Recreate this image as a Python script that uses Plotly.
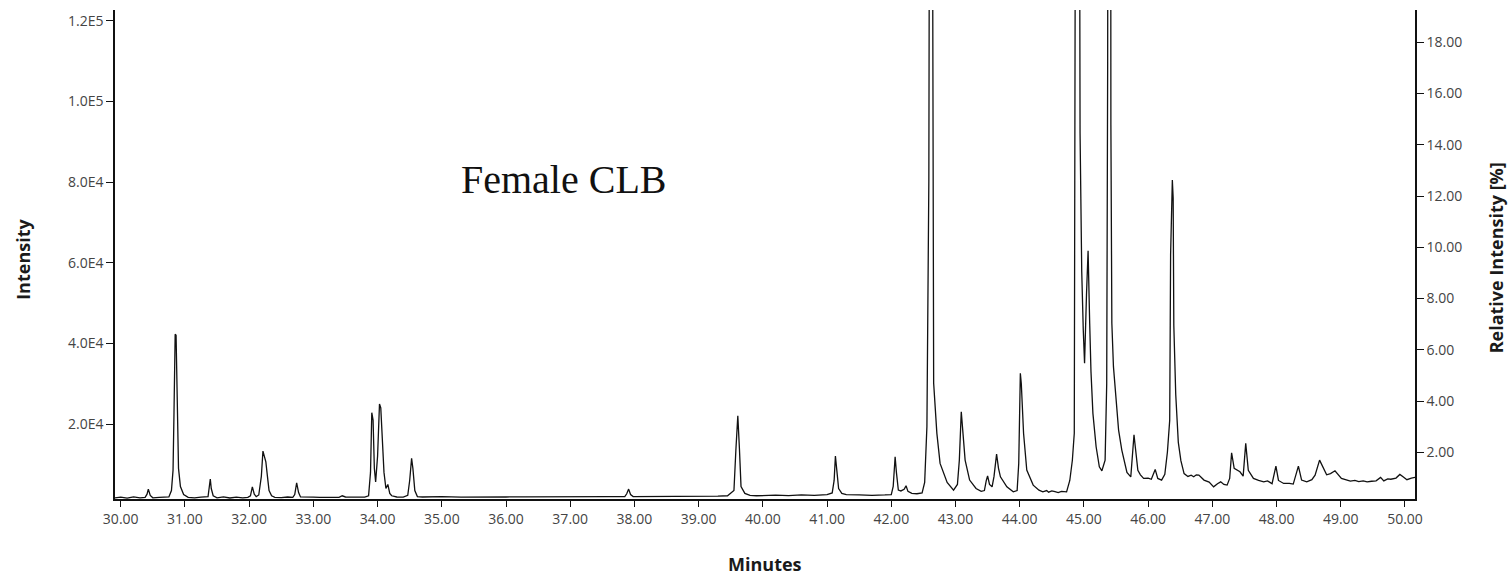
import plotly.graph_objects as go

# Retention time (minutes) and intensity
minutes = [
    29.91, 30.00, 30.10, 30.20, 30.30, 30.38, 30.41, 30.43, 30.46, 30.50,
    30.60, 30.70, 30.75, 30.79, 30.815, 30.83, 30.848, 30.862, 30.885, 30.90,
    30.93, 30.98, 31.05, 31.15, 31.25, 31.36, 31.38, 31.395, 31.41, 31.44,
    31.50, 31.60, 31.70, 31.80, 31.90, 31.98, 32.02, 32.05, 32.08, 32.11,
    32.15, 32.19, 32.215, 32.235, 32.26, 32.285, 32.31, 32.35, 32.40, 32.50,
    32.60, 32.68, 32.71, 32.74, 32.77, 32.80, 32.90, 33.00, 33.10, 33.20,
    33.30, 33.40, 33.45, 33.50, 33.60, 33.70, 33.80, 33.86, 33.89, 33.91,
    33.93, 33.95, 33.97, 34.00, 34.03, 34.05, 34.07, 34.10, 34.13, 34.16,
    34.19, 34.22, 34.30, 34.40, 34.47, 34.50, 34.53, 34.55, 34.58, 34.62,
    34.70, 35.00, 35.30, 35.60, 36.00, 36.30, 36.60, 37.00, 37.30, 37.60,
    37.85, 37.88, 37.91, 37.94, 37.98, 38.30, 38.60, 39.00, 39.30, 39.45,
    39.55, 39.58, 39.61, 39.635, 39.66, 39.72, 39.80, 39.90, 40.00, 40.20,
    40.40, 40.60, 40.80, 41.00, 41.08, 41.11, 41.13, 41.15, 41.18, 41.23,
    41.30, 41.50, 41.70, 41.90, 42.00, 42.03, 42.06, 42.08, 42.11, 42.15,
    42.20, 42.23, 42.26, 42.32, 42.40, 42.48, 42.52, 42.555, 42.575, 42.585,
    42.615, 42.645, 42.66, 42.71, 42.76, 42.87, 42.97, 43.03, 43.06, 43.09,
    43.12, 43.15, 43.22, 43.32, 43.40, 43.45, 43.48, 43.50, 43.53, 43.57,
    43.60, 43.64, 43.67, 43.70, 43.80, 43.90, 43.96, 43.985, 44.01, 44.025,
    44.06, 44.11, 44.21, 44.30, 44.36, 44.42, 44.45, 44.50, 44.55, 44.60,
    44.65, 44.73, 44.78, 44.82,
    44.85, 44.90, 44.94, 44.966, 44.99, 45.01, 45.04, 45.065, 45.09, 45.11,
    45.14, 45.19, 45.24, 45.28, 45.33, 45.355, 45.37, 45.40, 45.42, 45.435,
    45.46, 45.54, 45.59, 45.67, 45.73, 45.78, 45.80, 45.84, 45.88, 45.93,
    46.00, 46.05, 46.11, 46.15, 46.21, 46.26, 46.30, 46.336, 46.35, 46.377,
    46.39, 46.40, 46.43, 46.47, 46.51, 46.56, 46.62, 46.67, 46.71, 46.75,
    46.79, 46.83, 46.87, 46.95, 47.02, 47.08, 47.13, 47.18, 47.23, 47.27,
    47.30, 47.34, 47.43,
    47.48, 47.52, 47.56, 47.64, 47.72, 47.80, 47.86, 47.93, 47.99, 48.03,
    48.11, 48.20, 48.26, 48.34, 48.39, 48.47, 48.55, 48.60, 48.67, 48.73,
    48.78, 48.84, 48.91, 49.01, 49.08, 49.15, 49.22, 49.28, 49.35, 49.41,
    49.48, 49.55, 49.62, 49.67, 49.73, 49.78, 49.86, 49.92, 49.97, 50.03,
    50.10, 50.156,
]
intensity = [
    1700, 1850, 1600, 1900, 1700, 1800, 2600, 3850, 2300, 1700,
    1800, 1750, 1900, 3500, 8570, 23000, 42270, 42000, 23650, 9000,
    4500, 2500, 1800, 1700, 1850, 2000, 4500, 6330, 4000, 2200,
    1700, 1900, 1650, 1850, 1700, 1800, 2200, 4420, 2600, 2000,
    2400, 7000, 13290, 12000, 10630, 7000, 3500, 2200, 1800, 1750,
    1900, 1800, 2500, 5420, 3000, 1900, 1800, 1850, 1800, 1800,
    1850, 1800, 2200, 1900, 1850, 1850, 1850, 2200, 8000, 22800,
    21000, 9000, 5660, 12000, 24960, 24000, 16850, 8000, 4000, 5010,
    2800, 2200, 1900, 1850, 2300, 6000, 11480, 9000, 3500, 2000,
    1900, 2000, 1850, 1950, 1900, 1950, 2000, 2000, 1950, 2000,
    2000, 2700, 3850, 2500, 2000, 2000, 2000, 2050, 2100, 2200,
    3500, 13540, 22060, 14000, 4500, 2800, 2300, 2200, 2300, 2350,
    2250, 2400, 2300, 2500, 2900, 6000, 12050, 9000, 4000, 2800,
    2500, 2400, 2300, 2400, 2500, 4500, 11880, 8000, 3600, 3400,
    3800, 4670, 3300, 2800, 2700, 2900, 5500, 19330, 50800, 80180,
    330000, 105000, 30100, 17690, 10230, 5500, 3600, 5000, 11050, 23050,
    17690, 11050, 6090, 4010, 3300, 3500, 6000, 7150, 5000, 4420,
    7000, 12540, 9000, 6900, 4420, 3180, 3500, 10230, 32590, 30000,
    17690, 8570, 4840, 3600, 3180, 3500, 3100, 3400, 3200, 3000,
    3300, 3180, 6000, 11000,
    17690, 420000, 92200, 57830, 43350, 35070, 52000, 63000, 45000, 33000,
    22650, 14360, 9400, 8400, 11050, 30000, 109600, 636000, 94260, 45000,
    34230, 18500, 13540, 8000, 6900, 17350, 14360, 8500, 7400, 6500,
    6600, 6300, 8740, 6500, 6090, 7500, 13000, 20900, 61900, 80500,
    76000, 44500, 27300, 15450, 10900, 7700, 7000, 7300, 6910, 7400,
    7330, 6700, 6090, 5600, 4420, 5200, 5660, 5000, 4840, 6500,
    12870, 8990, 8150,
    7080, 15200, 8500, 6500, 6000, 5660, 5900, 5200, 9560, 6000,
    5260, 5300, 5100, 9560, 6100, 5660, 6200, 7330, 11050, 8990,
    7400, 7700, 8400, 6500, 6100, 5840, 6000, 5700, 5900, 5660,
    5800, 5900, 6750, 5900, 6400, 6300, 6600, 7500, 6900, 6200,
    6600, 6750,
]

left_tickvals = [20000, 40000, 60000, 80000, 100000, 120000]
left_ticktext = ["2.0E4", "4.0E4", "6.0E4", "8.0E4", "1.0E5", "1.2E5"]
right_tickvals = [2, 4, 6, 8, 10, 12, 14, 16, 18]
x_tickvals = list(range(30, 51))

# relative intensity (% of the largest peak) drives the right-hand axis
full_scale = max(intensity)
relative = [v / full_scale * 100 for v in intensity]

tick_font = dict(family="Open Sans", size=14, color="#444444")
title_font = dict(family="Open Sans", size=18, color="#1a1a1a")

fig = go.Figure()
fig.add_trace(go.Scatter(
    x=minutes, y=intensity, mode="lines",
    line=dict(color="#111111", width=1.3),
    showlegend=False, hoverinfo="x+y",
))
fig.add_trace(go.Scatter(
    x=minutes, y=relative, mode="lines", yaxis="y2",
    line=dict(color="rgba(0,0,0,0)", width=0),
    showlegend=False, hoverinfo="skip",
))

fig.update_layout(
    width=1510, height=576,
    margin=dict(l=115, r=95, t=10, b=77),
    paper_bgcolor="white", plot_bgcolor="white",
    showlegend=False,
    xaxis=dict(
        range=[29.911, 50.156], tickvals=x_tickvals, tickformat=".2f",
        showgrid=False, zeroline=False, showline=True, linecolor="#111111",
        linewidth=1.5, ticks="outside", ticklen=6, tickcolor="#111111",
        tickfont=tick_font,
    ),
    yaxis=dict(
        range=[1400, 122700], tickvals=left_tickvals, ticktext=left_ticktext,
        showgrid=False, zeroline=False, showline=True, linecolor="#111111",
        linewidth=1.5, ticks="outside", ticklen=7, tickcolor="#111111",
        tickfont=tick_font,
    ),
    yaxis2=dict(
        overlaying="y", side="right", anchor="x",
        range=[0.178, 19.26], tickvals=right_tickvals, tickformat=".2f",
        showgrid=False, zeroline=False, showline=True, linecolor="#111111",
        linewidth=1.5, ticks="outside", ticklen=7, tickcolor="#111111",
        tickfont=tick_font,
    ),
    annotations=[
        dict(text="Female CLB", xref="paper", yref="paper", x=0.345, y=0.654,
             showarrow=False, xanchor="center", yanchor="middle",
             font=dict(family="Liberation Serif", size=40, color="#111111")),
        dict(text="<b>Minutes</b>", xref="paper", yref="paper", x=0.5, y=-0.133,
             showarrow=False, xanchor="center", yanchor="middle", font=title_font),
        dict(text="<b>Intensity</b>", xref="paper", yref="paper", x=-0.0708, y=0.491,
             showarrow=False, xanchor="center", yanchor="middle", textangle=-90,
             font=title_font),
        dict(text="<b>Relative Intensity [%]</b>", xref="paper", yref="paper",
             x=1.063, y=0.494, showarrow=False, xanchor="center", yanchor="middle",
             textangle=-90, font=title_font),
    ],
)

fig.write_html("out.html")
